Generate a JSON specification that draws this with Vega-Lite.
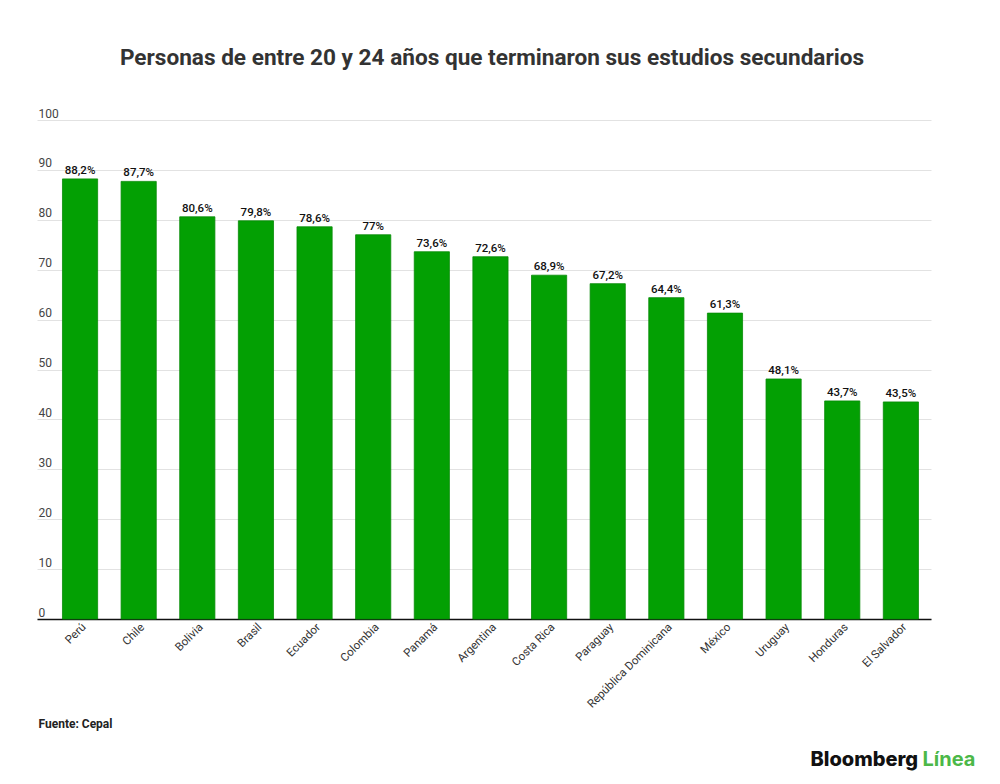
{
  "$schema": "https://vega.github.io/schema/vega-lite/v6.json",
  "autosize": "none",
  "width": 894,
  "height": 499,
  "padding": {"left": 37, "top": 120, "right": 69, "bottom": 165},
  "background": "white",
  "title": {
    "text": "Personas de entre 20 y 24 años que terminaron sus estudios secundarios",
    "anchor": "middle",
    "font": "Roboto",
    "fontSize": 22.6,
    "fontWeight": "bold",
    "color": "#333333",
    "offset": 37,
    "dx": 8
  },
  "config": {
    "view": {"stroke": null},
    "font": "Roboto"
  },
  "data": {
    "values": [
      {"pais": "Perú", "valor": 88.2, "etiqueta": "88,2%"},
      {"pais": "Chile", "valor": 87.7, "etiqueta": "87,7%"},
      {"pais": "Bolivia", "valor": 80.6, "etiqueta": "80,6%"},
      {"pais": "Brasil", "valor": 79.8, "etiqueta": "79,8%"},
      {"pais": "Ecuador", "valor": 78.6, "etiqueta": "78,6%"},
      {"pais": "Colombia", "valor": 77, "etiqueta": "77%"},
      {"pais": "Panamá", "valor": 73.6, "etiqueta": "73,6%"},
      {"pais": "Argentina", "valor": 72.6, "etiqueta": "72,6%"},
      {"pais": "Costa Rica", "valor": 68.9, "etiqueta": "68,9%"},
      {"pais": "Paraguay", "valor": 67.2, "etiqueta": "67,2%"},
      {"pais": "República Dominicana", "valor": 64.4, "etiqueta": "64,4%"},
      {"pais": "México", "valor": 61.3, "etiqueta": "61,3%"},
      {"pais": "Uruguay", "valor": 48.1, "etiqueta": "48,1%"},
      {"pais": "Honduras", "valor": 43.7, "etiqueta": "43,7%"},
      {"pais": "El Salvador", "valor": 43.5, "etiqueta": "43,5%"}
    ]
  },
  "encoding": {
    "x": {
      "field": "pais",
      "type": "nominal",
      "sort": null,
      "scale": {"paddingInner": 0.4, "paddingOuter": 0.324, "align": 0.67},
      "axis": {
        "title": "Fuente: Cepal",
        "titleFont": "Roboto",
        "titleFontSize": 12,
        "titleFontWeight": "bold",
        "titleColor": "#222222",
        "titleAnchor": "start",
        "titleAlign": "left",
        "titleBaseline": "alphabetic",
        "titleX": 1,
        "titleY": 108,
        "labelAngle": -45,
        "labelAlign": "right",
        "labelBaseline": "top",
        "labelFontSize": 11.5,
        "labelColor": "#333333",
        "labelPadding": 2,
        "ticks": false,
        "domainColor": "#111111",
        "domainWidth": 1.5,
        "grid": false
      }
    }
  },
  "layer": [
    {
      "mark": {"type": "bar", "color": "#03a003", "stroke": "#078a07", "strokeWidth": 0.8},
      "encoding": {
        "y": {
          "field": "valor",
          "type": "quantitative",
          "scale": {"domain": [0, 100], "nice": false},
          "axis": {
            "values": [0, 10, 20, 30, 40, 50, 60, 70, 80, 90, 100],
            "title": "Bloomberg",
            "titleFont": "Inter",
            "titleFontSize": 20,
            "titleFontWeight": 800,
            "titleColor": "#111111",
            "titleAngle": 0,
            "titleAlign": "left",
            "titleBaseline": "alphabetic",
            "titleX": 773,
            "titleY": 645,
            "labelAlign": "left",
            "labelBaseline": "bottom",
            "labelPadding": -1,
            "labelDy": -6,
            "labelFontSize": 12,
            "labelColor": "#444444",
            "ticks": false,
            "tickSize": 0,
            "domain": false,
            "gridColor": "#e2e2e2",
            "gridWidth": 1
          }
        }
      }
    },
    {
      "mark": {"type": "text", "baseline": "bottom", "dy": -3, "fontSize": 11.5, "fontWeight": 500, "color": "#111111"},
      "encoding": {
        "y": {
          "field": "valor",
          "type": "quantitative",
          "scale": {"domain": [0, 100], "nice": false},
          "axis": {
            "orient": "right",
            "title": "Línea",
            "titleFont": "Inter",
            "titleFontSize": 20,
            "titleFontWeight": 700,
            "titleColor": "#4cb848",
            "titleAngle": 0,
            "titleAlign": "left",
            "titleBaseline": "alphabetic",
            "titleX": -9,
            "titleY": 645,
            "labels": false,
            "ticks": false,
            "domain": false,
            "grid": false
          }
        },
        "text": {"field": "etiqueta"}
      }
    }
  ],
  "resolve": {"scale": {"y": "independent"}, "axis": {"y": "independent"}}
}
